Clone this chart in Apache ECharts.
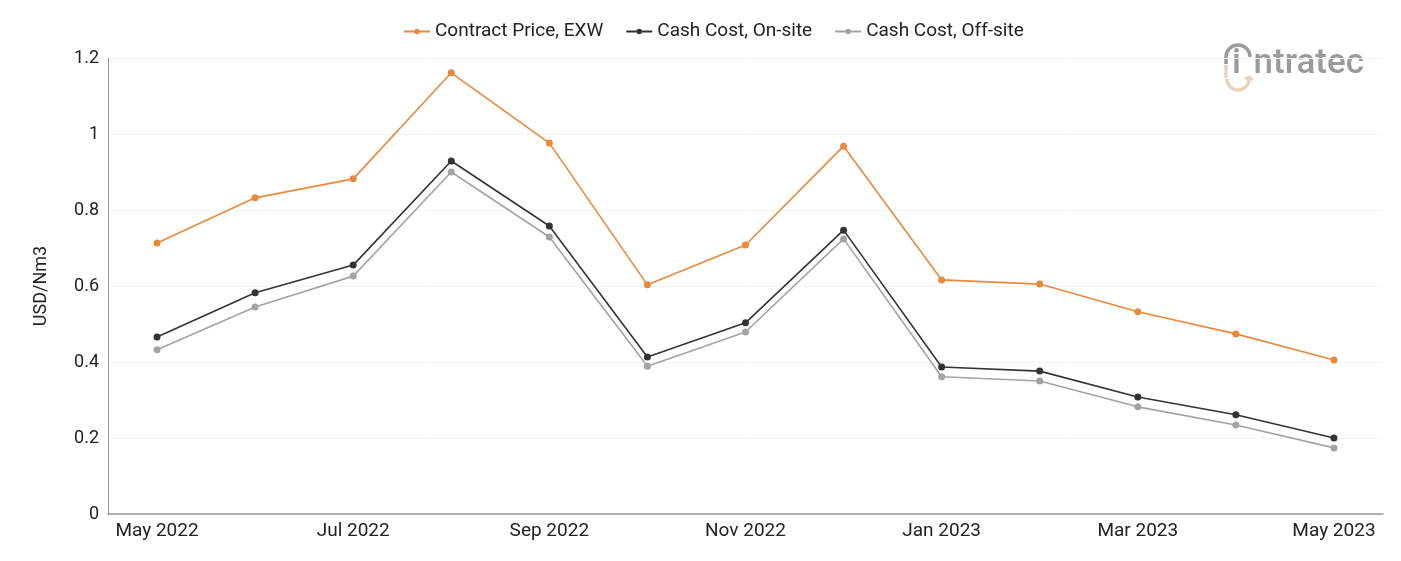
<!DOCTYPE html>
<html>
<head>
<meta charset="utf-8">
<script src="https://cdn.jsdelivr.net/npm/echarts@6/dist/echarts.min.js"></script>
<style>
  html, body { margin: 0; padding: 0; background: #fff; }
  #chart { width: 1401px; height: 561px; }
</style>
</head>
<body>
<div id="chart"></div>
<script>
var months = ['May 2022', 'Jun 2022', 'Jul 2022', 'Aug 2022', 'Sep 2022', 'Oct 2022', 'Nov 2022',
              'Dec 2022', 'Jan 2023', 'Feb 2023', 'Mar 2023', 'Apr 2023', 'May 2023'];
var contractPrice = [0.713, 0.832, 0.882, 1.161, 0.976, 0.603, 0.708, 0.968, 0.616, 0.605, 0.532, 0.474, 0.405];
var cashOnSite    = [0.466, 0.582, 0.655, 0.929, 0.758, 0.413, 0.503, 0.747, 0.387, 0.376, 0.308, 0.261, 0.200];
var cashOffSite   = [0.432, 0.545, 0.626, 0.900, 0.729, 0.389, 0.479, 0.724, 0.361, 0.350, 0.282, 0.234, 0.174];

var chart = echarts.init(document.getElementById('chart'));

function lineSeries(name, data, color) {
    return {
        name: name,
        type: 'line',
        data: data,
        symbol: 'circle',
        symbolSize: 7,
        lineStyle: { width: 1.6, color: color },
        itemStyle: { color: color },
        emphasis: { disabled: true }
    };
}

var logoGrey = '#9a9a9a';
var logoTan = '#ecd3b8';

var option = {
    backgroundColor: '#fff',
    textStyle: { fontFamily: 'Roboto' },
    legend: {
        top: 17,
        left: 398,
        itemGap: 22,
        itemWidth: 26,
        itemHeight: 7,
        textStyle: { fontSize: 19, color: '#222', fontFamily: 'Roboto' }
    },
    grid: { left: 108, right: 18, top: 58, bottom: 47 },
    xAxis: {
        type: 'category',
        data: months,
        boundaryGap: true,
        axisLine: { lineStyle: { color: '#999', width: 1.5 } },
        axisTick: { show: false },
        axisLabel: {
            interval: 1,
            margin: 8,
            fontSize: 19,
            color: '#222'
        }
    },
    yAxis: {
        type: 'value',
        min: 0,
        max: 1.2,
        interval: 0.2,
        name: 'USD/Nm3',
        nameLocation: 'middle',
        nameGap: 58,
        nameTextStyle: { fontSize: 18, color: '#222' },
        axisLine: { show: true, lineStyle: { color: '#999', width: 1 } },
        axisTick: { show: false },
        splitLine: { lineStyle: { color: '#f3f3f3' } },
        axisLabel: {
            margin: 9,
            fontSize: 18,
            color: '#222',
            formatter: function (v) { return String(+v.toFixed(1)); }
        }
    },
    graphic: [
        {
            type: 'text',
            right: 37,
            top: 47,
            style: { text: 'ntratec', fontSize: 35, fontWeight: 500, fontFamily: 'Roboto', fill: logoGrey }
        },
        {
            type: 'text',
            left: 1232,
            top: 47,
            style: { text: 'i', fontSize: 35, fontWeight: 500, fontFamily: 'Roboto', fill: logoGrey }
        },
        {
            type: 'arc',
            shape: { cx: 1238, cy: 57, r: 12, startAngle: Math.PI, endAngle: 2 * Math.PI },
            style: { stroke: logoGrey, lineWidth: 3.5, fill: null }
        },
        {
            type: 'line',
            shape: { x1: 1226, y1: 57, x2: 1226, y2: 64 },
            style: { stroke: logoGrey, lineWidth: 3.5 }
        },
        {
            type: 'line',
            shape: { x1: 1226, y1: 65, x2: 1226, y2: 78 },
            style: { stroke: logoTan, lineWidth: 3.5 }
        },
        {
            type: 'arc',
            shape: { cx: 1238, cy: 79, r: 11, startAngle: 0, endAngle: Math.PI },
            style: { stroke: logoTan, lineWidth: 3.5, fill: null }
        },
        {
            type: 'polyline',
            shape: { points: [[1245, 79], [1249, 77], [1253, 80]] },
            style: { stroke: logoTan, lineWidth: 3, fill: null }
        }
    ],
    series: [
        lineSeries('Contract Price, EXW', contractPrice, '#e8893c'),
        lineSeries('Cash Cost, On-site', cashOnSite, '#333333'),
        lineSeries('Cash Cost, Off-site', cashOffSite, '#a3a3a3')
    ]
};

chart.setOption(option);
window.onresize = function () { chart.resize(); };
</script>
</body>
</html>
